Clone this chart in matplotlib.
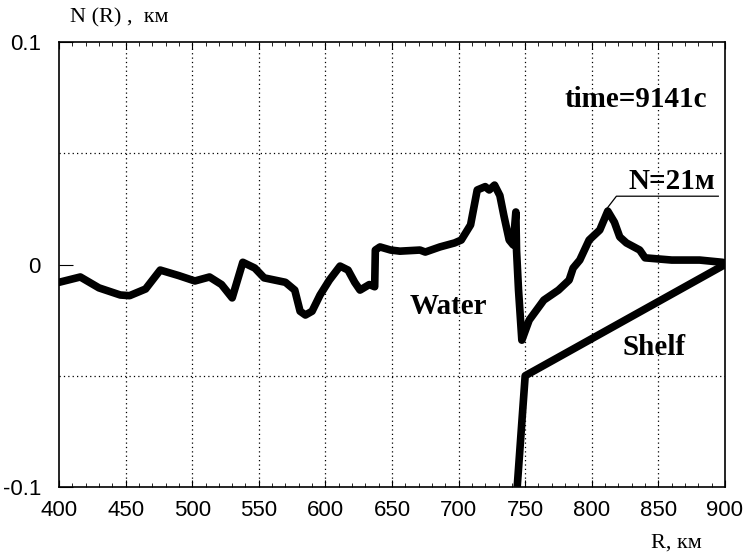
import numpy as np
import matplotlib.pyplot as plt
from matplotlib.ticker import MultipleLocator, FixedLocator

# wave profile N(R), km
r_wave = [400, 416, 430, 446, 453, 465, 476, 490, 502, 513, 522, 530, 538, 547,
          554, 570, 577, 581, 585, 590, 596, 603, 611, 617, 622, 626, 633, 637,
          637.5, 641, 649, 656, 671, 675, 686, 697, 702, 709, 714, 720, 723, 727,
          731, 734, 738, 741, 743, 743.5, 745, 746.5, 747.5,
          753, 764, 775, 783, 786, 791, 798, 806, 812, 817, 821, 826, 836, 840,
          860, 881, 898, 900]
n_wave = [-0.008, -0.0056, -0.0105, -0.0137, -0.014, -0.011, -0.0025, -0.005, -0.0074,
          -0.0056, -0.009, -0.015, 0.001, -0.0016, -0.006, -0.008, -0.0115, -0.021,
          -0.0227, -0.021, -0.0137, -0.007, -0.0007, -0.0025, -0.008, -0.0115, -0.009,
          -0.010, 0.0065, 0.0079, 0.0065, 0.006, 0.0065, 0.0056, 0.0079, 0.0097, 0.011,
          0.0178, 0.0335, 0.035, 0.0335, 0.0357, 0.031, 0.022, 0.011, 0.0088, 0.0236,
          0.0065, -0.0115, -0.025, -0.034,
          -0.025, -0.016, -0.0115, -0.007, -0.0016, 0.002, 0.011, 0.0155, 0.0240, 0.019,
          0.0124, 0.0097, 0.0065, 0.003, 0.002, 0.002, 0.001, 0.0007]

# shelf bottom profile
r_shelf = [744, 750, 900]
n_shelf = [-0.1, -0.05, 0.0]

x_ticks = [400, 450, 500, 550, 600, 650, 700, 750, 800, 850, 900]
y_ticks = [-0.1, 0, 0.1]
y_tick_labels = ["-0.1", "0", "0.1"]

fig = plt.figure(figsize=(7.47, 5.55), dpi=100)
ax = fig.add_axes([0.079, 0.1225, 0.8915, 0.8018])

ax.plot(r_wave, n_wave, color="black", lw=5.5, solid_joinstyle="round", solid_capstyle="round")
ax.plot(r_shelf, n_shelf, color="black", lw=5.5, solid_capstyle="butt")

ax.set_xlim(400, 900)
ax.set_ylim(-0.1, 0.1)
ax.xaxis.set_major_locator(FixedLocator(x_ticks))
ax.xaxis.set_minor_locator(MultipleLocator(10))
ax.yaxis.set_major_locator(FixedLocator(y_ticks))
ax.set_yticklabels(y_tick_labels)

for x in x_ticks[1:-1]:
    ax.axvline(x, color="black", lw=0.9, ls=(0, (1, 2.5)))
for y in [-0.05, 0.05]:
    ax.axhline(y, color="black", lw=0.9, ls=(0, (1, 2.5)))

ax.tick_params(axis="x", which="both", direction="in", top=True, labelsize=16, pad=9)
ax.tick_params(axis="x", which="major", length=5)
ax.tick_params(axis="x", which="minor", length=3)
ax.tick_params(axis="y", direction="in", length=10, labelsize=16, pad=13)
for lbl in ax.get_xticklabels() + ax.get_yticklabels():
    lbl.set_fontfamily("Liberation Sans")
for s in ax.spines.values():
    s.set_linewidth(1.2)

serif = "Liberation Serif"
fig.text(0.094, 0.967, "N (R) ,  км", fontsize=16, family=serif, ha="left", va="center")
fig.text(0.905, 0.022, "R, км", fontsize=16, family=serif, ha="center", va="center")

ax.text(833, 0.074, "time=9141c", fontsize=21, family=serif, weight="bold", ha="center", va="center")
ax.text(860, 0.0375, "N=21м", fontsize=21, family=serif, weight="bold", ha="center", va="center")
ax.plot([810.5, 818.5, 895], [0.0245, 0.0307, 0.0307], color="black", lw=0.9)
ax.text(692, -0.019, "Water", fontsize=21, family=serif, weight="bold", ha="center", va="center")
ax.text(847, -0.0375, "Shelf", fontsize=21, family=serif, weight="bold", ha="center", va="center")

fig.savefig("out.png", dpi=100)
